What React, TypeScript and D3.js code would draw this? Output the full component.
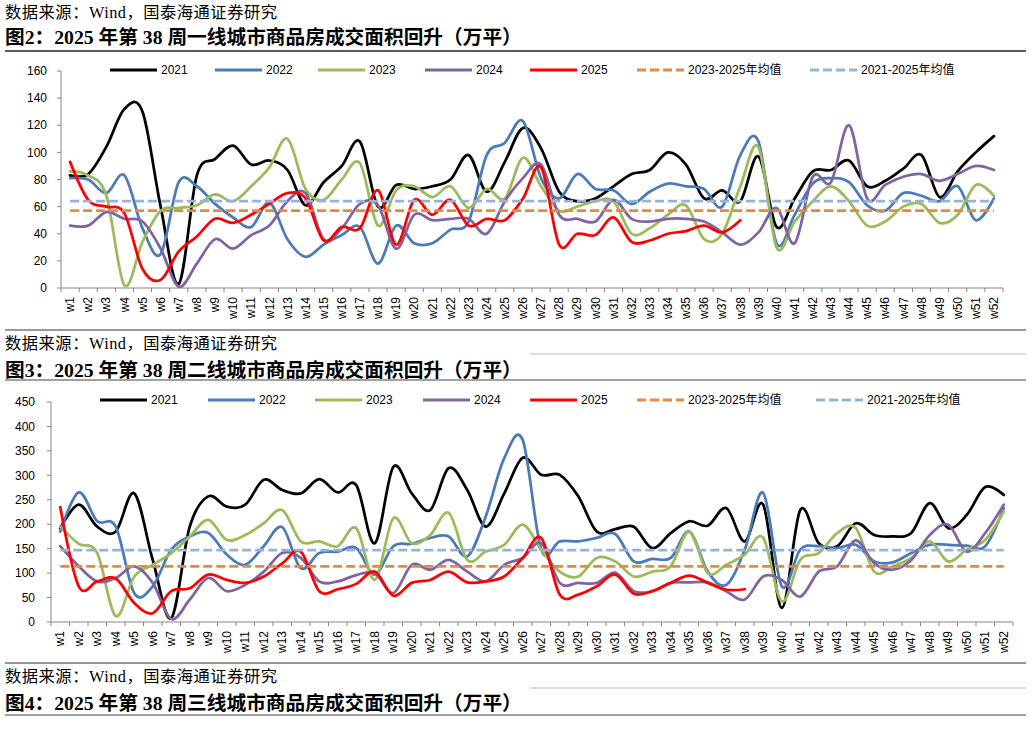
import * as d3 from 'd3';

// week labels w1..w52
const weeks = d3.range(1, 53).map((i) => `w${i}`);

const seriesNames = ['2021', '2022', '2023', '2024', '2025'];
const avgNames = ['2023-2025年均值', '2021-2025年均值'];

// 图2 一线城市（万平）
const tier1_2021 = [83, 84, 104, 132, 130, 60, 3, 83, 95, 105, 91, 94, 87, 61, 78, 90, 108, 60, 76, 73, 75, 80, 98, 71, 93, 118, 103, 71, 64, 66, 75, 84, 87, 100, 91, 66, 72, 64, 97, 45, 66, 86, 87, 94, 75, 79, 88, 98, 67, 86, 100, 112];
const tier1_2022 = [81, 80, 70, 83, 44, 25, 78, 75, 62, 52, 45, 63, 36, 23, 32, 39, 45, 18, 46, 33, 33, 43, 49, 98, 107, 123, 81, 66, 84, 73, 72, 62, 71, 77, 75, 73, 60, 98, 108, 33, 54, 77, 81, 78, 61, 57, 70, 68, 64, 75, 50, 66];
const tier1_2023 = [86, 83, 68, 2, 34, 57, 59, 61, 69, 64, 75, 89, 110, 73, 65, 80, 92, 46, 72, 75, 67, 75, 59, 73, 66, 96, 75, 57, 60, 64, 64, 40, 44, 54, 61, 36, 40, 75, 104, 30, 49, 64, 75, 64, 46, 49, 60, 62, 48, 54, 76, 68];
const tier1_2024 = [46, 46, 56, 51, 49, 29, 1, 18, 36, 29, 39, 46, 64, 70, 36, 44, 62, 61, 29, 54, 50, 51, 51, 40, 64, 81, 91, 54, 51, 49, 65, 51, 49, 51, 51, 49, 41, 32, 41, 59, 33, 82, 78, 120, 66, 76, 82, 84, 79, 84, 90, 87];
const tier1_2025 = [93, 65, 60, 55, 14, 6, 27, 38, 51, 48, 54, 62, 70, 66, 35, 45, 44, 72, 32, 65, 54, 65, 46, 51, 50, 66, 89, 32, 40, 39, 52, 34, 35, 40, 42, 46, 41, 50];
const tier1_avg = [57, 64];
const tier1_ticks = [0, 20, 40, 60, 80, 100, 120, 140, 160];

// 图3 二线城市（万平）
const tier2_2021 = [192, 240, 195, 185, 263, 127, 8, 195, 257, 236, 240, 291, 270, 263, 292, 265, 280, 161, 317, 263, 229, 315, 270, 195, 263, 336, 301, 301, 257, 185, 190, 195, 151, 182, 206, 197, 233, 165, 240, 29, 229, 161, 155, 202, 178, 175, 182, 243, 192, 219, 276, 260];
const tier2_2022 = [185, 265, 206, 195, 59, 73, 148, 175, 182, 138, 117, 155, 194, 110, 141, 144, 151, 97, 155, 160, 172, 175, 134, 216, 335, 372, 148, 165, 165, 172, 180, 124, 129, 131, 185, 103, 76, 148, 264, 73, 148, 155, 151, 158, 124, 122, 141, 158, 158, 156, 155, 233];
const tier2_2023 = [195, 160, 141, 12, 93, 117, 141, 175, 209, 168, 178, 202, 229, 165, 165, 155, 192, 86, 212, 161, 178, 223, 127, 144, 158, 199, 148, 103, 93, 131, 124, 93, 103, 114, 185, 100, 117, 138, 172, 42, 127, 141, 182, 192, 103, 114, 131, 165, 124, 148, 168, 226];
const tier2_2024 = [155, 114, 83, 90, 114, 80, 6, 46, 90, 63, 76, 103, 141, 131, 83, 83, 96, 100, 59, 117, 107, 127, 103, 83, 117, 131, 161, 80, 80, 80, 101, 63, 63, 80, 81, 81, 63, 46, 93, 86, 52, 103, 114, 167, 120, 107, 127, 178, 199, 144, 182, 240];
const tier2_2025 = [235, 73, 83, 89, 39, 18, 63, 69, 97, 86, 80, 93, 120, 144, 63, 67, 78, 103, 54, 80, 86, 103, 81, 83, 93, 131, 172, 56, 56, 73, 97, 58, 63, 80, 95, 80, 66, 67];
const tier2_avg = [114, 147];
const tier2_ticks = [0, 50, 100, 150, 200, 250, 300, 350, 400, 450];

const colors = ['#000000', '#4A7BB7', '#9BBB59', '#8064A2', '#FF0000'];
const avgColors = ['#E8883E', '#95B3D7'];

const sans = "'Liberation Sans', Arial, 'Noto Sans CJK SC', sans-serif";
const serif = "'Liberation Serif', 'Times New Roman', 'Noto Sans CJK SC', serif";

interface ChartProps {
  series: number[][];
  avg: number[];
  ticks: number[];
  left: number;
  right: number;
  top: number;
  bottom: number;
  legendY: number;
  legendX: number[];
  labelGap: number;
}

const Chart = (props: ChartProps) => {
  const { series, avg, ticks, left, right, top, bottom, legendY, legendX, labelGap } = props;
  const x = d3.scaleBand(weeks, [left, right]);
  const y = d3.scaleLinear([0, ticks[ticks.length - 1]], [bottom, top]);
  const cx = (i: number) => (x(weeks[i]) as number) + x.bandwidth() / 2;
  const line = d3
    .line<number>()
    .x((d, i) => cx(i))
    .y((d) => y(d))
    .curve(d3.curveCardinal.tension(0));
  const axisColor = '#868686';
  const boundaries = d3.range(0, weeks.length + 1).map((i) => left + i * x.step());
  const legendLabels = [...seriesNames, ...avgNames];
  const legendColors = [...colors, ...avgColors];

  return (
    <g>
      {/* axes */}
      <line x1={left} x2={left} y1={top} y2={bottom} stroke={axisColor} />
      <line x1={left} x2={right} y1={bottom} y2={bottom} stroke={axisColor} />
      {ticks.map((t) => (
        <g key={t}>
          <line x1={left - 4} x2={left} y1={y(t)} y2={y(t)} stroke={axisColor} />
          <text x={left - labelGap} y={y(t)} dy="0.35em" textAnchor="end" fontSize={12} fontFamily={sans} fill="#000">
            {t}
          </text>
        </g>
      ))}
      {boundaries.map((b, i) => (
        <line key={i} x1={b} x2={b} y1={bottom} y2={bottom + 4} stroke={axisColor} />
      ))}
      {weeks.map((w, i) => (
        <text
          key={w}
          transform={`translate(${cx(i)},${bottom + 9}) rotate(-90)`}
          dy="0.35em"
          textAnchor="end"
          fontSize={12}
          fontFamily={sans}
          fill="#000"
        >
          {w}
        </text>
      ))}
      {/* series */}
      {series.map((s, k) => (
        <path key={k} d={line(s) ?? ''} fill="none" stroke={colors[k]} strokeWidth={2.75} strokeLinejoin="round" strokeLinecap="round" />
      ))}
      {avg.map((a, k) => (
        <line key={k} x1={cx(0)} x2={cx(weeks.length - 1)} y1={y(a)} y2={y(a)} stroke={avgColors[k]} strokeWidth={2.75} strokeDasharray="9,4" />
      ))}
      {/* legend */}
      {legendLabels.map((name, k) => (
        <g key={name} transform={`translate(${legendX[k]},${legendY})`}>
          <line x1={0} x2={47} y1={0} y2={0} stroke={legendColors[k]} strokeWidth={3} strokeDasharray={k > 4 ? '9,4' : undefined} />
          <text x={51} y={0} dy="0.35em" fontSize={12} fontFamily={sans} fill="#000">
            {name}
          </text>
        </g>
      ))}
    </g>
  );
};

const source = '数据来源：Wind，国泰海通证券研究';

const Source = ({ y }: { y: number }) => (
  <text x={5} y={y} fontSize={16.3} fontFamily={serif} fill="#000" textLength={272} lengthAdjust="spacing">
    {source}
  </text>
);

export default function App() {
  return (
    <svg width={1032} height={729} style={{ position: 'absolute', left: 0, top: 0, background: '#fff' }}>
      <rect width={1032} height={729} fill="#fff" />
      <Source y={18} />
      <text x={5} y={44} fontSize={19.7} fontWeight="bold" fontFamily={serif} fill="#000">
        图2：2025 年第 38 周一线城市商品房成交面积回升（万平）
      </text>
      <line x1={5} x2={1026} y1={51} y2={51} stroke="#222" strokeWidth={1.5} />

      <Chart
        series={[tier1_2021, tier1_2022, tier1_2023, tier1_2024, tier1_2025]}
        avg={tier1_avg}
        ticks={tier1_ticks}
        left={61}
        right={1003}
        top={71}
        bottom={288}
        legendY={70}
        legendX={[110, 215, 318, 425, 530, 637, 810]}
        labelGap={14}
      />

      <line x1={5} x2={1026} y1={330} y2={330} stroke="#333" strokeWidth={1} />
      <Source y={349} />
      <line x1={530} x2={1026} y1={354} y2={354} stroke="#bbb" strokeWidth={1} />
      <text x={5} y={377} fontSize={19.7} fontWeight="bold" fontFamily={serif} fill="#000">
        图3：2025 年第 38 周二线城市商品房成交面积回升（万平）
      </text>
      <line x1={5} x2={1026} y1={380} y2={380} stroke="#444" strokeWidth={1.2} />

      <Chart
        series={[tier2_2021, tier2_2022, tier2_2023, tier2_2024, tier2_2025]}
        avg={tier2_avg}
        ticks={tier2_ticks}
        left={51}
        right={1013}
        top={402}
        bottom={622}
        legendY={400}
        legendX={[100, 208, 315, 423, 530, 637, 816]}
        labelGap={16}
      />

      <line x1={5} x2={1026} y1={663} y2={663} stroke="#333" strokeWidth={1} />
      <Source y={682} />
      <line x1={530} x2={1026} y1={688} y2={688} stroke="#bbb" strokeWidth={1} />
      <text x={5} y={710} fontSize={19.7} fontWeight="bold" fontFamily={serif} fill="#000">
        图4：2025 年第 38 周三线城市商品房成交面积回升（万平）
      </text>
      <line x1={5} x2={1026} y1={715} y2={715} stroke="#444" strokeWidth={1.2} />
    </svg>
  );
}
